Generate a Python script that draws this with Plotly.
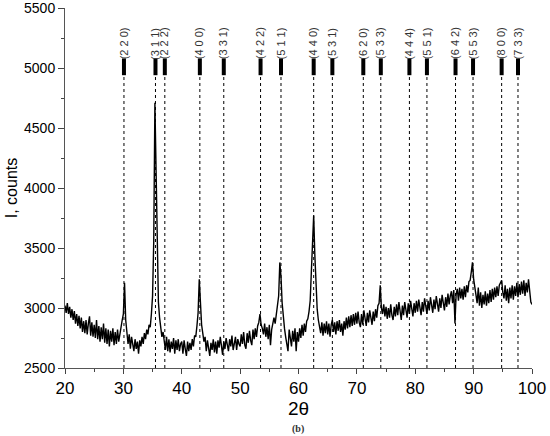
import numpy as np
import plotly.graph_objects as go

# diffraction pattern sampled every 0.2 deg, 20..100
two_theta = np.round(np.arange(20.0, 100.001, 0.2), 1)

counts_20_30 = [
    3020, 2960, 3040, 2950, 3010, 2920, 2990, 2900, 2975, 2870,
    2950, 2850, 2935, 2830, 2920, 2800, 2890, 2790, 2900, 2780,
    2870, 2930, 2770, 2880, 2760, 2860, 2750, 2900, 2740, 2850,
    2720, 2840, 2740, 2870, 2710, 2830, 2700, 2820, 2680, 2810,
    2720, 2830, 2690, 2800, 2700, 2820, 2720, 2790, 2830, 2900,
]
counts_30_40 = [
    2950, 3210, 2900, 2790, 2700, 2780, 2660, 2760, 2690, 2640,
    2740, 2660, 2720, 2620, 2730, 2680, 2760, 2700, 2790, 2740,
    2820, 2780, 2860, 2840, 2950, 3100, 3550, 4710, 4150, 3400,
    3050, 2920, 2830, 2760, 2800, 2700, 2650, 2760, 2640, 2740,
    2630, 2720, 2660, 2750, 2620, 2730, 2650, 2740, 2640, 2700,
]
counts_40_50 = [
    2720, 2620, 2730, 2660, 2600, 2720, 2640, 2710, 2650, 2740,
    2680, 2770, 2760, 2850, 2960, 3240, 2990, 2860, 2790, 2720,
    2760, 2640, 2730, 2680, 2600, 2710, 2650, 2740, 2630, 2720,
    2620, 2730, 2670, 2760, 2650, 2610, 2720, 2660, 2750, 2680,
    2640, 2740, 2680, 2770, 2650, 2700, 2760, 2650, 2740, 2700,
]
counts_50_60 = [
    2680, 2780, 2700, 2800, 2690, 2660, 2790, 2710, 2810, 2730,
    2690, 2820, 2740, 2830, 2760, 2850, 2880, 2950, 2860, 2830,
    2780, 2870, 2760, 2840, 2740, 2860, 2690, 2820, 2860, 2920,
    2870, 2950, 3000, 3100, 3380, 3260, 3040, 2920, 2830, 2760,
    2700, 2640, 2820, 2740, 2680, 2810, 2720, 2830, 2640, 2800,
]
counts_60_70 = [
    2720, 2830, 2750, 2860, 2770, 2870, 2800, 2890, 2910, 2970,
    3060, 3300, 3610, 3770, 3440, 3140, 2990, 2900, 2840, 2790,
    2880, 2770, 2870, 2790, 2890, 2780, 2870, 2760, 2860, 2900,
    2800, 2880, 2780, 2890, 2810, 2900, 2800, 2870, 2770, 2890,
    2820, 2920, 2830, 2930, 2840, 2940, 2850, 2950, 2860, 2960,
]
counts_70_80 = [
    2870, 2970, 2880, 2840, 2950, 2860, 2980, 2890, 2850, 2960,
    2880, 2980, 2900, 2860, 2970, 2890, 2990, 2920, 3020, 3040,
    3190, 3000, 2950, 3030, 2930, 3010, 2910, 3000, 2920, 3030,
    2940, 2900, 3010, 2930, 3030, 2940, 3050, 2950, 2900, 3020,
    2940, 3050, 2960, 2920, 3040, 2950, 3060, 2970, 2930, 3040,
]
counts_80_90 = [
    2960, 3060, 2970, 3070, 2980, 2940, 3050, 2970, 3080, 2990,
    2950, 3060, 2980, 3090, 3000, 2960, 3070, 2990, 3100, 3010,
    2970, 3080, 3000, 3110, 3020, 2980, 3090, 3010, 3120, 3030,
    3100, 3140, 3040, 3150, 2870, 3110, 3160, 3060, 3170, 3080,
    3160, 3070, 3180, 3090, 3190, 3130, 3220, 3230, 3300, 3380,
]
counts_90_100 = [
    3240, 3190, 3110, 3040, 3170, 3020, 3130, 3000, 3110, 3030,
    3140, 3020, 3120, 3040, 3150, 3050, 3160, 3070, 3170, 3090,
    3180, 3100, 3190, 3210, 3230, 3130, 3080, 3190, 3060, 3160,
    3040, 3170, 3080, 3190, 3070, 3180, 3100, 3210, 3090, 3200,
    3110, 3220, 3120, 3230, 3100, 3210, 3130, 3240, 3110, 3050,
    3030,
]
counts = (counts_20_30 + counts_30_40 + counts_40_50 + counts_50_60
          + counts_60_70 + counts_70_80 + counts_80_90 + counts_90_100)

# reference reflections (spinel)
peak_pos = [30.1, 35.5, 37.1, 43.1, 47.2, 53.5, 57.0, 62.6, 65.8,
            71.1, 74.1, 79.0, 82.0, 86.9, 89.9, 94.8, 97.6]
peak_hkl = ["(2 2 0)", "(3 1 1)", "(2 2 2)", "(4 0 0)", "(3 3 1)", "(4 2 2)",
            "(5 1 1)", "(4 4 0)", "(5 3 1)", "(6 2 0)", "(5 3 3)", "(4 4 4)",
            "(5 5 1)", "(6 4 2)", "(5 5 3)", "(8 0 0)", "(7 3 3)"]

BAR_LO, BAR_HI, Y_MIN = 4940, 5080, 2500

fig = go.Figure()

# dotted guide lines
gx, gy = [], []
for p in peak_pos:
    gx += [p, p, None]
    gy += [Y_MIN, BAR_LO, None]
fig.add_trace(go.Scatter(x=gx, y=gy, mode="lines",
                         line=dict(color="black", width=1, dash="dot"),
                         hoverinfo="skip"))

# short thick markers
bx, by = [], []
for p in peak_pos:
    bx += [p, p, None]
    by += [BAR_LO, BAR_HI, None]
fig.add_trace(go.Scatter(x=bx, y=by, mode="lines",
                         line=dict(color="black", width=4),
                         hoverinfo="skip"))

fig.add_trace(go.Scatter(x=two_theta, y=counts, mode="lines",
                         line=dict(color="black", width=1.4)))

for p, lab in zip(peak_pos, peak_hkl):
    fig.add_annotation(x=p, y=5055, text=lab, textangle=-90,
                       showarrow=False, xanchor="center", yanchor="bottom",
                       font=dict(size=11, color="#333333"))

fig.add_annotation(x=0.499, y=-0.169, xref="paper", yref="paper",
                   text="<b>(b)</b>", showarrow=False, yanchor="middle",
                   font=dict(family="Liberation Serif", size=10, color="#333"))

fig.update_layout(
    width=550,
    height=436,
    margin=dict(l=65, r=18, t=8, b=68),
    paper_bgcolor="white",
    plot_bgcolor="white",
    showlegend=False,
    font=dict(family="Liberation Sans, Arial", color="black"),
    xaxis=dict(
        range=[20, 100],
        tick0=20, dtick=10,
        ticks="outside", ticklen=5, tickwidth=1,
        minor=dict(dtick=5, ticks="outside", ticklen=3),
        showline=True, linecolor="#555", linewidth=1,
        showgrid=False, zeroline=False,
        tickfont=dict(size=17),
        automargin=False,
        title=dict(text="2θ", font=dict(size=19), standoff=2),
    ),
    yaxis=dict(
        range=[2500, 5500],
        tick0=2500, dtick=500,
        ticks="outside", ticklen=6, tickwidth=1,
        minor=dict(dtick=250, ticks="outside", ticklen=3),
        showline=True, linecolor="#555", linewidth=1,
        showgrid=False, zeroline=False,
        tickfont=dict(size=14),
        ticklabeloverflow="allow",
        automargin=False,
        title=dict(text="I, counts", font=dict(size=16), standoff=2),
    ),
)

# page body has a default 8px margin; drop it so the figure sits at 0,0
fig.write_html(
    "out.html",
    config={"responsive": False, "displayModeBar": False},
    post_script="document.body.style.margin='0';",
)
